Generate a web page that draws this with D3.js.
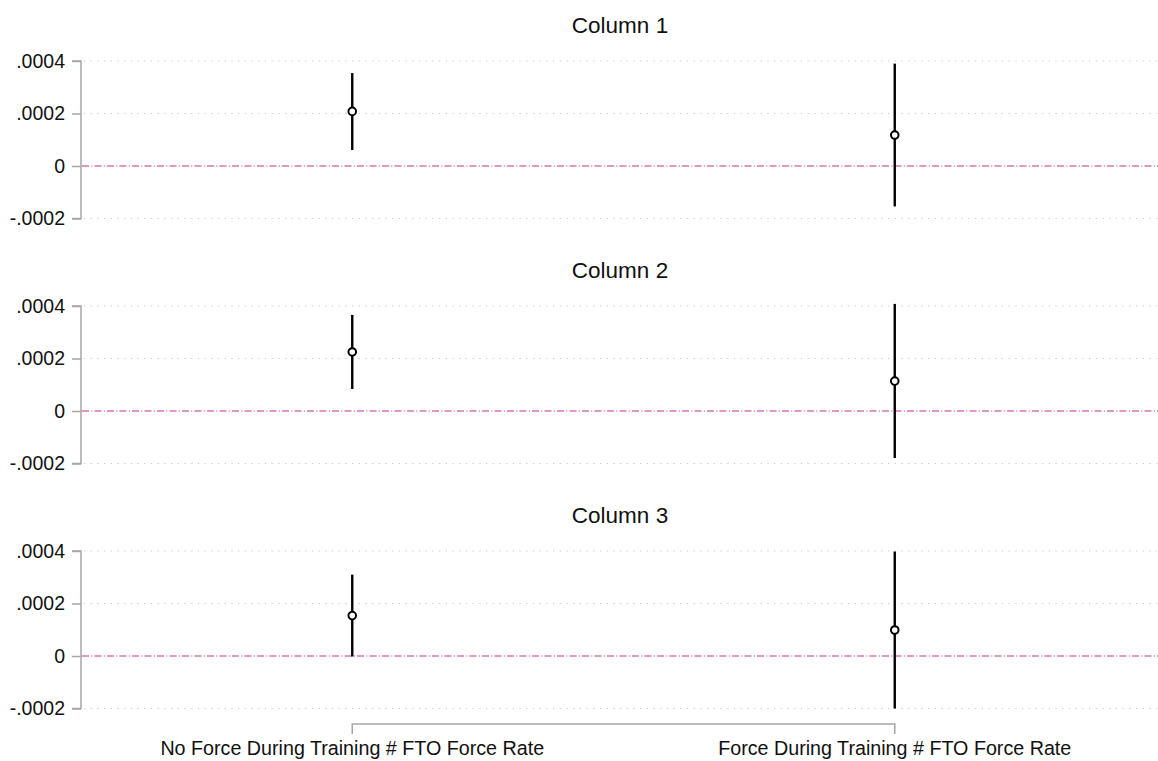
<!DOCTYPE html>
<html><head><meta charset="utf-8">
<script src="https://cdn.jsdelivr.net/npm/d3@7"></script>
<style>body{margin:0;background:#fff}svg{display:block}text{font-family:Arial,"Liberation Sans",Helvetica,sans-serif}</style>
</head><body><svg id="c" width="1158" height="761"></svg>
<script>
const panels = ["Column 1", "Column 2", "Column 3"];
const categories = ["No Force During Training # FTO Force Rate", "Force During Training # FTO Force Rate"];
const coef1 = [0.000208, 0.000118];
const lo1   = [0.000061, -0.000154];
const hi1   = [0.000354, 0.000390];
const coef2 = [0.000225, 0.000114];
const lo2   = [0.000084, -0.000179];
const hi2   = [0.000366, 0.000408];
const coef3 = [0.000154, 0.000099];
const lo3   = [-0.000002, -0.000200];
const hi3   = [0.000310, 0.000398];
const yTicks = [-0.0002, 0, 0.0002, 0.0004];
const yTickLabels = ["-.0002", "0", ".0002", ".0004"];

const series = [
  {coef: coef1, lo: lo1, hi: hi1},
  {coef: coef2, lo: lo2, hi: hi2},
  {coef: coef3, lo: lo3, hi: hi3}
];

const svg = d3.select("#c");
const x = d3.scaleLinear().domain([0.5, 2.5]).range([81, 1166]);
const axisColor = "#a6a6a6";

panels.forEach((title, p) => {
  const off = p * 245;
  const y = d3.scaleLinear().domain([-0.0002, 0.0004]).range([218.5 + off, 61 + off]);
  const g = svg.append("g");

  // title
  g.append("text").attr("x", 620).attr("y", 33 + off).attr("text-anchor", "middle")
    .attr("font-size", 22.5).attr("fill", "#111").text(title);

  // gridlines
  g.selectAll(".grid").data(yTicks.filter(t => t !== 0)).enter().append("line")
    .attr("x1", 84).attr("x2", 1158)
    .attr("y1", d => y(d)).attr("y2", d => y(d))
    .attr("stroke", "#c8c8c8").attr("stroke-width", 1.2).attr("stroke-dasharray", "1.2,5.5");

  // zero line
  g.append("line").attr("x1", 82).attr("x2", 1158).attr("y1", y(0)).attr("y2", y(0))
    .attr("stroke", "#d877b0").attr("stroke-width", 1.4).attr("stroke-dasharray", "7,2.3,1,2.2");

  // y axis
  const ax = d3.axisLeft(y).tickValues(yTicks).tickSize(9).tickPadding(7)
    .tickFormat((d, i) => yTickLabels[i]);
  const axg = g.append("g").attr("transform", "translate(81,0)").call(ax);
  axg.select(".domain").attr("stroke", axisColor).attr("stroke-width", 1.5).attr("d", `M-9,${y(0.0004)}H0V${y(-0.0002)}H-9`);
  axg.selectAll(".tick line").attr("stroke", axisColor).attr("stroke-width", 1.5);
  axg.selectAll(".tick text").attr("font-size", 19.5).attr("fill", "#111").attr("font-family", "Arial,'Liberation Sans',sans-serif");

  const s = series[p];
  const idx = [0, 1];
  // CI lines
  g.selectAll(".ci").data(idx).enter().append("line")
    .attr("x1", i => x(i + 1)).attr("x2", i => x(i + 1))
    .attr("y1", i => y(s.lo[i])).attr("y2", i => y(s.hi[i]))
    .attr("stroke", "#000").attr("stroke-width", 2.4);
  // points
  g.selectAll(".pt").data(idx).enter().append("circle")
    .attr("cx", i => x(i + 1)).attr("cy", i => y(s.coef[i])).attr("r", 3.8)
    .attr("fill", "#fff").attr("stroke", "#000").attr("stroke-width", 2);
});

// bottom x axis
const bx = svg.append("g");
bx.append("path").attr("d", `M${x(1)},734V724H${x(2)}V734`)
  .attr("fill", "none").attr("stroke", axisColor).attr("stroke-width", 1.5);
bx.selectAll(".xl").data(categories).enter().append("text")
  .attr("x", (d, i) => x(i + 1)).attr("y", 755).attr("text-anchor", "middle")
  .attr("font-size", 19.7).attr("fill", "#111").text(d => d);
</script></body></html>
